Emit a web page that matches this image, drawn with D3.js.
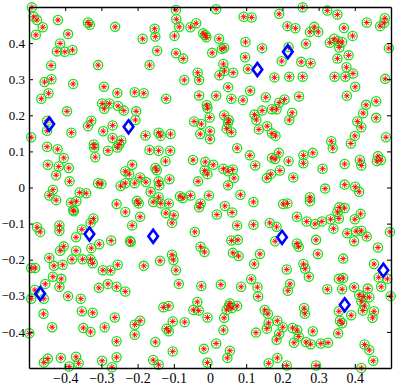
<!DOCTYPE html>
<html>
<head>
<meta charset="utf-8">
<script src="https://cdn.jsdelivr.net/npm/d3@7"></script>
<style>
  body { margin: 0; background: #fff; }
  svg text { font-family: "Liberation Serif", "Times New Roman", serif; font-size: 14px; fill: #000; }
  svg .y-axis text { font-size: 13px; }
</style>
</head>
<body>
<svg id="chart" width="399" height="385"></svg>
<script>
const xTicks = [-0.4, -0.3, -0.2, -0.1, 0, 0.1, 0.2, 0.3, 0.4];
const yTicks = [-0.4, -0.3, -0.2, -0.1, 0, 0.1, 0.2, 0.3, 0.4];

// sample points (green circle + red star)
const samplesTopLeft = [[-0.492,0.499],[-0.487,0.473],[-0.478,0.464],[-0.462,0.444],[-0.420,0.464],[-0.337,0.457],[-0.332,0.451],[-0.262,0.445],[-0.481,0.423],[-0.392,0.425],[-0.186,0.412],[-0.414,0.399],[-0.423,0.377],[-0.401,0.376],[-0.380,0.381],[-0.439,0.338],[-0.309,0.339],[-0.457,0.292],[-0.438,0.300],[-0.378,0.287],[-0.293,0.279],[-0.446,0.261],[-0.256,0.262],[-0.208,0.264],[-0.183,0.261]];
const samplesTopMid = [[-0.094,0.492],[0.017,0.494],[-0.093,0.466],[-0.085,0.445],[-0.153,0.440],[-0.054,0.444],[-0.038,0.455],[0.093,0.473],[0.115,0.471],[-0.151,0.418],[-0.098,0.420],[-0.019,0.427],[-0.013,0.422],[-0.010,0.416],[0.025,0.412],[0.098,0.403],[0.144,0.386],[-0.146,0.379],[-0.094,0.372],[-0.074,0.357],[0.006,0.373],[0.033,0.384],[0.039,0.387],[-0.167,0.339],[0.037,0.342],[0.097,0.361],[0.105,0.328],[0.040,0.323],[0.026,0.311],[0.064,0.318],[-0.034,0.318],[-0.071,0.298],[-0.030,0.298],[0.050,0.278],[0.111,0.268],[0.178,0.305]];
const samplesTopRight = [[0.256,0.499],[0.191,0.481],[0.324,0.490],[0.352,0.479],[0.214,0.447],[0.236,0.441],[0.288,0.445],[0.276,0.431],[0.299,0.431],[0.370,0.442],[0.433,0.457],[0.483,0.469],[0.470,0.447],[0.481,0.456],[0.343,0.412],[0.331,0.401],[0.354,0.405],[0.365,0.403],[0.357,0.388],[0.394,0.420],[0.265,0.398],[0.494,0.386],[0.383,0.366],[0.352,0.357],[0.198,0.350],[0.252,0.348],[0.278,0.344],[0.377,0.333],[0.395,0.316],[0.374,0.307],[0.344,0.307],[0.219,0.307],[0.256,0.307],[0.484,0.301],[0.401,0.279],[0.217,0.389]];
const samplesUpLeft = [[-0.466,0.246],[-0.395,0.211],[-0.450,0.185],[-0.450,0.157],[-0.494,0.139],[-0.383,0.152],[-0.328,0.185],[-0.337,0.170],[-0.298,0.233],[-0.292,0.218],[-0.278,0.233],[-0.254,0.226],[-0.238,0.213],[-0.204,0.211],[-0.206,0.187],[-0.269,0.172],[-0.178,0.144],[-0.295,0.156],[-0.269,0.137],[-0.245,0.130],[-0.251,0.119],[-0.256,0.111],[-0.321,0.119],[-0.320,0.111],[-0.282,0.102],[-0.317,0.084],[-0.450,0.113],[-0.421,0.106],[-0.404,0.082],[-0.448,0.063],[-0.418,0.058],[-0.390,0.054],[-0.425,0.034],[-0.388,0.017],[-0.434,-0.006],[-0.215,0.063],[-0.234,0.045],[-0.223,0.037],[-0.193,0.028],[-0.208,0.012],[-0.234,0.012],[-0.309,0.012],[-0.300,0.010],[-0.247,0.004],[-0.177,0.015],[-0.167,0.104]];
const samplesUpMid = [[-0.121,0.246],[-0.030,0.255],[0.017,0.254],[0.059,0.246],[0.091,0.242],[0.154,0.250],[-0.009,0.228],[-0.007,0.220],[-0.044,0.183],[-0.024,0.176],[-0.001,0.194],[0.039,0.200],[0.052,0.187],[0.050,0.180],[0.046,0.163],[0.059,0.153],[0.000,0.156],[-0.027,0.148],[0.000,0.134],[0.123,0.202],[0.128,0.187],[0.144,0.213],[0.171,0.217],[0.135,0.161],[0.158,0.170],[0.171,0.150],[-0.142,0.152],[-0.136,0.143],[-0.109,0.148],[-0.142,0.102],[-0.110,0.102],[0.075,0.109],[0.110,0.089],[0.171,0.082],[-0.047,0.076],[-0.013,0.071],[0.009,0.063],[-0.123,0.073],[-0.151,0.054],[-0.147,0.048],[-0.015,0.047],[-0.007,0.037],[0.037,0.052],[0.050,0.045],[0.063,0.050],[0.066,0.026],[0.125,0.061],[0.157,0.026],[0.168,0.037],[-0.033,0.017],[-0.112,0.023],[-0.142,0.017],[-0.140,0.006],[0.050,0.006]];
const samplesUpRight = [[0.246,0.252],[0.378,0.254],[0.206,0.244],[0.191,0.235],[0.184,0.217],[0.227,0.207],[0.219,0.187],[0.431,0.229],[0.459,0.239],[0.423,0.206],[0.459,0.193],[0.407,0.183],[0.418,0.167],[0.181,0.143],[0.400,0.143],[0.486,0.139],[0.335,0.128],[0.339,0.109],[0.389,0.122],[0.190,0.096],[0.180,0.079],[0.217,0.073],[0.258,0.089],[0.258,0.067],[0.284,0.096],[0.372,0.065],[0.414,0.076],[0.418,0.061],[0.464,0.087],[0.472,0.076],[0.461,0.073],[0.311,0.052],[0.193,0.047],[0.230,0.028],[0.318,-0.003],[0.372,0.008],[0.401,0.002]];
const samplesLowLeft = [[-0.360,-0.014],[-0.342,-0.016],[-0.444,-0.022],[-0.425,-0.035],[-0.384,-0.042],[-0.369,-0.038],[-0.376,-0.066],[-0.378,-0.063],[-0.258,-0.046],[-0.202,-0.037],[-0.197,-0.044],[-0.234,-0.068],[-0.193,-0.081],[-0.330,-0.098],[-0.322,-0.086],[-0.478,-0.110],[-0.469,-0.123],[-0.416,-0.105],[-0.416,-0.120],[-0.354,-0.116],[-0.370,-0.138],[-0.328,-0.168],[-0.306,-0.157],[-0.273,-0.147],[-0.219,-0.151],[-0.221,-0.148],[-0.215,-0.105],[-0.404,-0.163],[-0.414,-0.175],[-0.370,-0.175],[-0.444,-0.195],[-0.381,-0.199],[-0.352,-0.199],[-0.330,-0.199],[-0.324,-0.210],[-0.431,-0.217],[-0.407,-0.214],[-0.255,-0.214],[-0.183,-0.217],[-0.494,-0.223],[-0.483,-0.223],[-0.296,-0.229],[-0.275,-0.230],[-0.434,-0.247],[-0.411,-0.253],[-0.455,-0.267],[-0.282,-0.267]];
const samplesLowMid = [[-0.164,-0.012],[-0.142,-0.027],[-0.157,-0.040],[-0.136,-0.044],[-0.114,-0.044],[-0.083,-0.024],[-0.075,-0.029],[-0.054,-0.022],[-0.003,-0.022],[0.084,-0.020],[0.120,-0.040],[-0.026,-0.044],[-0.030,-0.055],[0.041,-0.051],[0.061,-0.069],[0.019,-0.075],[-0.122,-0.071],[-0.100,-0.077],[-0.105,-0.098],[0.075,-0.105],[0.120,-0.103],[0.165,-0.098],[-0.042,-0.123],[-0.026,-0.164],[-0.015,-0.179],[0.059,-0.147],[0.077,-0.145],[0.063,-0.181],[0.079,-0.190],[0.138,-0.184],[0.122,-0.212],[-0.105,-0.186],[-0.101,-0.201],[-0.138,-0.203],[-0.094,-0.229],[-0.086,-0.267],[0.030,-0.269],[0.114,-0.254]];
const samplesLowRight = [[0.412,-0.012],[0.202,-0.046],[0.214,-0.044],[0.276,-0.027],[0.276,-0.038],[0.240,-0.081],[0.267,-0.094],[0.290,-0.101],[0.309,-0.094],[0.333,-0.088],[0.352,-0.068],[0.357,-0.055],[0.372,-0.057],[0.356,-0.086],[0.400,-0.088],[0.416,-0.073],[0.184,-0.109],[0.180,-0.149],[0.341,-0.114],[0.379,-0.127],[0.403,-0.121],[0.418,-0.120],[0.398,-0.149],[0.433,-0.136],[0.497,-0.123],[0.293,-0.145],[0.240,-0.155],[0.245,-0.164],[0.298,-0.184],[0.464,-0.166],[0.368,-0.197],[0.453,-0.212],[0.212,-0.227],[0.258,-0.212],[0.263,-0.225],[0.273,-0.247],[0.356,-0.253],[0.368,-0.251],[0.466,-0.249],[0.490,-0.253],[0.221,-0.267]];
const samplesBottomLeft = [[-0.484,-0.284],[-0.494,-0.308],[-0.459,-0.308],[-0.416,-0.275],[-0.392,-0.301],[-0.357,-0.308],[-0.307,-0.278],[-0.258,-0.275],[-0.234,-0.288],[-0.460,-0.350],[-0.354,-0.343],[-0.324,-0.347],[-0.263,-0.360],[-0.193,-0.369],[-0.208,-0.380],[-0.436,-0.387],[-0.350,-0.389],[-0.330,-0.400],[-0.291,-0.387],[-0.499,-0.404],[-0.208,-0.408],[-0.258,-0.426],[-0.448,-0.474],[-0.459,-0.485],[-0.412,-0.472],[-0.389,-0.496],[-0.370,-0.469],[-0.363,-0.487],[-0.298,-0.480],[-0.271,-0.498],[-0.258,-0.470]];
const samplesBottomMid = [[-0.024,-0.273],[0.086,-0.275],[0.131,-0.276],[0.133,-0.302],[-0.035,-0.317],[-0.046,-0.339],[-0.031,-0.341],[-0.129,-0.332],[-0.114,-0.328],[0.055,-0.321],[0.052,-0.328],[0.075,-0.328],[0.061,-0.334],[0.046,-0.339],[-0.007,-0.360],[0.039,-0.361],[-0.103,-0.371],[-0.070,-0.373],[-0.120,-0.391],[-0.114,-0.398],[0.037,-0.395],[0.127,-0.402],[-0.151,-0.428],[0.017,-0.432],[-0.017,-0.447],[-0.103,-0.454],[0.055,-0.452],[0.048,-0.472],[-0.157,-0.478],[-0.142,-0.491],[-0.007,-0.485],[0.151,-0.339],[0.160,-0.350],[0.162,-0.375],[0.157,-0.391],[0.162,-0.487]];
const samplesBottomRight = [[0.215,-0.286],[0.324,-0.282],[0.365,-0.282],[0.398,-0.276],[0.436,-0.280],[0.473,-0.275],[0.499,-0.301],[0.412,-0.297],[0.423,-0.302],[0.440,-0.304],[0.418,-0.315],[0.427,-0.328],[0.422,-0.341],[0.453,-0.343],[0.449,-0.361],[0.390,-0.354],[0.356,-0.343],[0.359,-0.369],[0.365,-0.376],[0.354,-0.404],[0.260,-0.334],[0.262,-0.350],[0.186,-0.369],[0.201,-0.387],[0.228,-0.389],[0.241,-0.395],[0.284,-0.398],[0.191,-0.406],[0.245,-0.413],[0.184,-0.422],[0.232,-0.430],[0.265,-0.428],[0.278,-0.434],[0.306,-0.432],[0.326,-0.430],[0.427,-0.435],[0.440,-0.450],[0.451,-0.480],[0.186,-0.472],[0.212,-0.493],[0.293,-0.493],[0.418,-0.500]];

// highlighted points (blue diamonds)
const centers = [[-0.444,0.176],[-0.225,0.168],[0.131,0.327],[0.215,0.376],[-0.333,-0.129],[-0.157,-0.135],[0.199,-0.138],[-0.469,-0.294],[0.479,-0.229],[0.372,-0.325]];

const samples = [].concat(samplesTopLeft, samplesTopMid, samplesTopRight,
  samplesUpLeft, samplesUpMid, samplesUpRight,
  samplesLowLeft, samplesLowMid, samplesLowRight,
  samplesBottomLeft, samplesBottomMid, samplesBottomRight);

const box = { left: 29, right: 391, top: 7, bottom: 368 };

const x = d3.scaleLinear().domain([-0.5, 0.5]).range([box.left, box.right]);
const y = d3.scaleLinear().domain([-0.5, 0.5]).range([box.bottom, box.top]);

const svg = d3.select("#chart");
const fmt = d => d === 0 ? "0" : d3.format(".1f")(d);

const plot = svg.append("g");

// green circles
plot.selectAll("circle.sample")
  .data(samples)
  .join("circle")
  .attr("class", "sample")
  .attr("cx", d => x(d[0]))
  .attr("cy", d => y(d[1]))
  .attr("r", 4.6)
  .attr("fill", "none")
  .attr("stroke", "#14e614")
  .attr("stroke-width", 1.3);

// red asterisks
const star = "M-3.2,0H3.2M0,-3.2V3.2M-2.3,-2.3L2.3,2.3M-2.3,2.3L2.3,-2.3";
plot.selectAll("path.star")
  .data(samples)
  .join("path")
  .attr("class", "star")
  .attr("transform", d => `translate(${x(d[0])},${y(d[1])})`)
  .attr("d", star)
  .attr("fill", "none")
  .attr("stroke", "#ff0000")
  .attr("stroke-width", 0.9);

// blue diamonds
const diamond = "M0,-6.5L4.8,0L0,6.5L-4.8,0Z";
plot.selectAll("path.center")
  .data(centers)
  .join("path")
  .attr("class", "center")
  .attr("transform", d => `translate(${x(d[0])},${y(d[1])})`)
  .attr("d", diamond)
  .attr("fill", "none")
  .attr("stroke", "#0000ff")
  .attr("stroke-width", 2.6);

// axes, ticks pointing inward
const tick = 4;
svg.append("g")
  .attr("class", "x-axis")
  .attr("transform", `translate(0,${box.bottom})`)
  .call(d3.axisBottom(x).tickValues(xTicks).tickFormat(fmt).tickSizeInner(-tick).tickSizeOuter(0).tickPadding(5));
svg.append("g")
  .attr("class", "y-axis")
  .attr("transform", `translate(${box.left},0)`)
  .call(d3.axisLeft(y).tickValues(yTicks).tickFormat(fmt).tickSizeInner(-tick).tickSizeOuter(0).tickPadding(4));
svg.append("g")
  .attr("transform", `translate(0,${box.top})`)
  .call(d3.axisTop(x).tickValues(xTicks).tickFormat("").tickSizeInner(-tick).tickSizeOuter(0));
svg.append("g")
  .attr("transform", `translate(${box.right},0)`)
  .call(d3.axisRight(y).tickValues(yTicks).tickFormat("").tickSizeInner(-tick).tickSizeOuter(0));

svg.selectAll(".tick text").attr("font-family", null).attr("font-size", null);
svg.selectAll(".domain").attr("stroke-width", 1.4);
svg.selectAll(".tick line").attr("stroke-width", 1);
</script>
</body>
</html>
